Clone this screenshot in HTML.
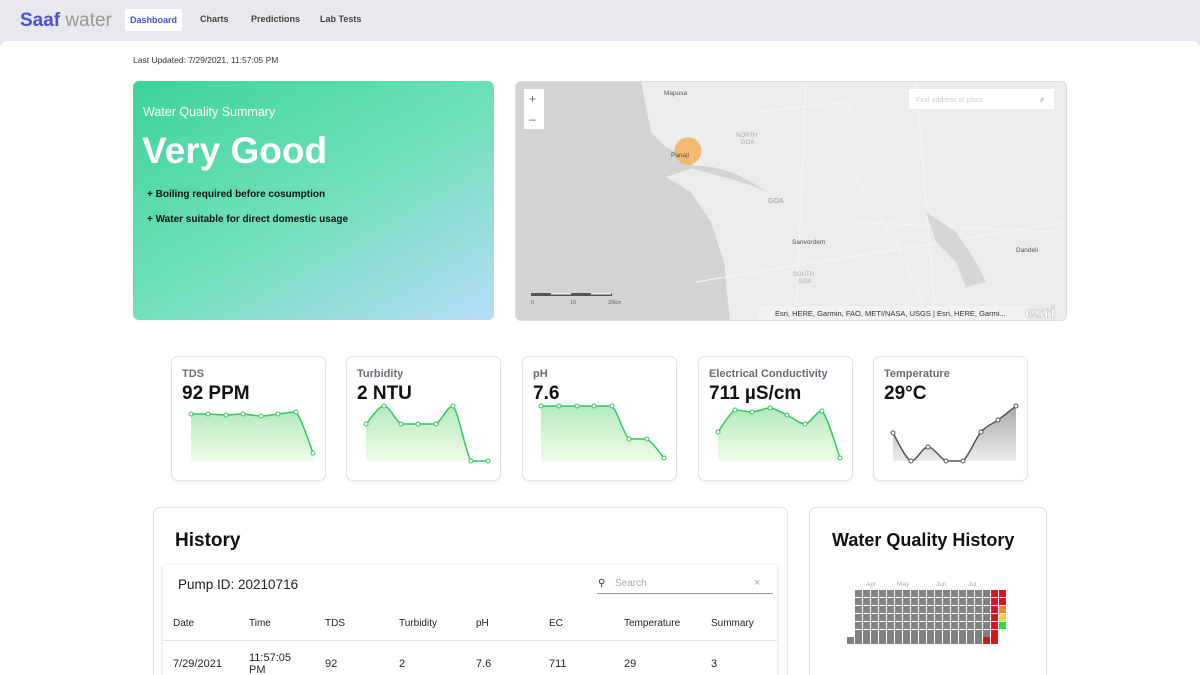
<!DOCTYPE html>
<html><head><meta charset="utf-8">
<style>
*{box-sizing:border-box;margin:0;padding:0}
html,body{width:1200px;height:675px;overflow:hidden}
body{background:#e8e9ec;font-family:"Liberation Sans",sans-serif;position:relative}
.a{position:absolute}
.main{left:0;top:41px;width:1200px;height:634px;background:#fff;border-radius:8px 8px 0 0}
.card{background:#fff;border:1px solid #e2e2e2;border-radius:7px;box-shadow:0 1px 2px rgba(0,0,0,.06)}
.lbl{font-size:11px;font-weight:bold;color:#6b6b78}
.val{font-size:19px;font-weight:bold;color:#111}
.nar{font-family:"Liberation Sans Narrow","Liberation Sans",sans-serif}
.th{font-size:10px;color:#222;top:618px}
.td{font-size:11px;color:#222;top:658px}
</style></head><body>
<div class="a" style="left:20px;top:10px;font-size:19px;color:#4a4fd8;font-weight:bold">Saaf<span style="font-weight:normal;color:#999"> water</span></div>
<div class="a" style="left:125px;top:9px;width:57px;height:22px;background:#fff;border-radius:3px;font-size:9px;font-weight:bold;color:#4a4fd8;text-align:center;line-height:22px">Dashboard</div>
<div class="a" style="left:200px;top:14px;font-size:9px;font-weight:bold;color:#444">Charts</div>
<div class="a" style="left:251px;top:14px;font-size:9px;font-weight:bold;color:#444">Predictions</div>
<div class="a" style="left:320px;top:14px;font-size:9px;font-weight:bold;color:#444">Lab Tests</div>
<div class="a main"></div>
<div class="a" style="left:133px;top:55px;font-size:8.5px;color:#333">Last Updated: 7/29/2021, 11:57:05 PM</div>

<div class="a" style="left:133px;top:81px;width:361px;height:239px;border-radius:6px;background:linear-gradient(150deg,#3dd39a 0%,#6ee0b8 50%,#b6dcf8 100%)">
 <div class="a" style="left:10px;top:24px;color:#fff;font-size:12.5px">Water Quality Summary</div>
 <div class="a" style="left:9px;top:49px;color:#fff;font-size:37px;font-weight:bold">Very Good</div>
 <div class="a" style="left:14px;top:108px;font-size:10px;font-weight:bold;color:#111">+ Boiling required before cosumption</div>
 <div class="a" style="left:14px;top:133px;font-size:10px;font-weight:bold;color:#111">+ Water suitable for direct domestic usage</div>
</div>

<div class="a" style="left:515px;top:81px;width:552px;height:240px;border-radius:6px;overflow:hidden;background:#ececec;border:1px solid #ddd">
 <svg class="a" style="left:0;top:0" width="552" height="240">
  <polygon points="0,0 125,0 135,50 150,65 165,72 180,85 150,95 175,110 195,140 208,180 214,240 0,240" fill="#d1d3d4"/>
  <path d="M170,85 C200,80 230,95 250,110 L260,115 L240,105 C210,95 190,90 170,85Z" fill="#d1d3d4"/>
  <path d="M240,30 L330,20 L340,40 M330,80 L380,160 L420,250 M340,140 L540,150 M400,0 L420,240 M180,200 L550,140 M290,0 L280,240" stroke="#f4f4f4" stroke-width="1" fill="none"/>
  <path d="M410,130 L440,150 L460,180 L470,200 L450,205 L440,180 L420,160Z" fill="#d6d6d6"/>
  <circle cx="172" cy="69" r="13.5" fill="#f5b25a" opacity=".85"/>
  <text x="155" y="75" font-size="6.5" fill="#555" font-family="Liberation Sans">Panaji</text>
  <text x="148" y="13" font-size="6.5" fill="#555" font-family="Liberation Sans">Mapusa</text>
  <text x="220" y="55" font-size="6" fill="#aaa" font-family="Liberation Sans">NORTH</text>
  <text x="225" y="62" font-size="6" fill="#aaa" font-family="Liberation Sans">GOA</text>
  <text x="252" y="121" font-size="7" fill="#999" font-family="Liberation Sans">GOA</text>
  <text x="276" y="162" font-size="6.5" fill="#555" font-family="Liberation Sans">Sanvordem</text>
  <text x="277" y="194" font-size="6" fill="#aaa" font-family="Liberation Sans">SOUTH</text>
  <text x="282" y="201" font-size="6" fill="#aaa" font-family="Liberation Sans">GOA</text>
  <text x="500" y="170" font-size="6.5" fill="#555" font-family="Liberation Sans">Dandeli</text>
  <rect x="15" y="211" width="81" height="3" fill="#555"/>
  <rect x="35" y="211" width="20" height="1.5" fill="#eee"/><rect x="75" y="211" width="20" height="1.5" fill="#eee"/>
  <text x="15" y="222" font-size="5.5" fill="#666">0</text><text x="54" y="222" font-size="5.5" fill="#666">10</text><text x="92" y="222" font-size="5.5" fill="#666">20km</text>
  <rect x="243" y="224" width="270" height="14" fill="#f3f3f3" opacity=".9"/>
  <text x="259" y="234" font-size="7.5" fill="#333" font-family="Liberation Sans">Esri, HERE, Garmin, FAO, METI/NASA, USGS | Esri, HERE, Garmi...</text>
  <text x="509" y="236" font-size="17" fill="#fff" font-weight="bold" stroke="#bbb" stroke-width=".6" font-family="Liberation Sans">esri</text>
  <rect x="8" y="7" width="20" height="40" fill="#fff"/>
  <text x="13" y="21" font-size="12" fill="#666">+</text><text x="13" y="41" font-size="12" fill="#666">–</text>
  <rect x="393" y="7" width="145" height="20" fill="#fff"/>
  <text x="400" y="20" font-size="7" fill="#ccc" font-family="Liberation Sans">Find address or place</text>
  <text x="524" y="20" font-size="8" fill="#777">⌕</text>
 </svg>
</div>

<div class="a card" style="left:171px;top:356px;width:155px;height:125px"><div class="a lbl" style="left:10px;top:11px">TDS</div><div class="a val" style="left:10px;top:26px">92 PPM</div></div>
<div class="a card" style="left:346px;top:356px;width:155px;height:125px"><div class="a lbl" style="left:10px;top:11px">Turbidity</div><div class="a val" style="left:10px;top:26px">2 NTU</div></div>
<div class="a card" style="left:522px;top:356px;width:155px;height:125px"><div class="a lbl" style="left:10px;top:11px">pH</div><div class="a val" style="left:10px;top:26px">7.6</div></div>
<div class="a card" style="left:698px;top:356px;width:155px;height:125px"><div class="a lbl" style="left:10px;top:11px">Electrical Conductivity</div><div class="a val" style="left:10px;top:26px">711 µS/cm</div></div>
<div class="a card" style="left:873px;top:356px;width:155px;height:125px"><div class="a lbl" style="left:10px;top:11px">Temperature</div><div class="a val" style="left:10px;top:26px">29°C</div></div>

<svg id="sp" class="a" style="left:0;top:0" width="1200" height="675">
<defs>
<linearGradient id="gg" x1="0" y1="0" x2="0" y2="1"><stop offset="0" stop-color="#b5eac0"/><stop offset="1" stop-color="#effde6"/></linearGradient>
<linearGradient id="gr" x1="0" y1="0" x2="0" y2="1"><stop offset="0" stop-color="#a9a9a9"/><stop offset="1" stop-color="#ececec"/></linearGradient>
</defs>
</svg>

<div class="a card" style="left:153px;top:507px;width:635px;height:200px"></div>
<div class="a" style="left:175px;top:530px;font-size:19px;font-weight:bold;color:#111">History</div>
<div class="a" style="left:163px;top:565px;width:614px;height:140px;background:#fff;box-shadow:0 1px 4px rgba(0,0,0,.15)"></div>
<div class="a nar" style="left:178px;top:577px;font-size:13.5px;color:#222">Pump ID: 20210716</div>
<div class="a" style="left:598px;top:578px;font-size:10px;color:#333">&#9906;</div>
<div class="a nar" style="left:615px;top:578px;font-size:10px;color:#aaa">Search</div>
<div class="a" style="left:754px;top:577px;font-size:11px;color:#aaa">×</div>
<div class="a" style="left:597px;top:593px;width:176px;height:1px;background:#999"></div>
<div class="a nar th" style="left:173px">Date</div><div class="a nar th" style="left:249px">Time</div><div class="a nar th" style="left:325px">TDS</div><div class="a nar th" style="left:399px">Turbidity</div><div class="a nar th" style="left:476px">pH</div><div class="a nar th" style="left:549px">EC</div><div class="a nar th" style="left:624px">Temperature</div><div class="a nar th" style="left:711px">Summary</div>
<div class="a" style="left:163px;top:640px;width:614px;height:1px;background:#e2e2e2"></div>
<div class="a nar td" style="left:173px">7/29/2021</div><div class="a nar td" style="left:249px;top:652px;line-height:12px">11:57:05<br>PM</div><div class="a nar td" style="left:325px">92</div><div class="a nar td" style="left:399px">2</div><div class="a nar td" style="left:476px">7.6</div><div class="a nar td" style="left:549px">711</div><div class="a nar td" style="left:624px">29</div><div class="a nar td" style="left:711px">3</div>

<div class="a card" style="left:809px;top:507px;width:238px;height:200px"></div>
<div class="a" style="left:832px;top:530px;font-size:18px;font-weight:bold;color:#111">Water Quality History</div>
<svg id="hm" class="a" style="left:0;top:0" width="1200" height="675">
<g font-size="6.5" fill="#aaa" font-family="Liberation Sans"><text x="866" y="586">Apr</text><text x="897" y="586">May</text><text x="936" y="586">Jun</text><text x="968" y="586">Jul</text></g>
</svg>
<script>
const S='http://www.w3.org/2000/svg';
function cl(v,a,b){const lo=Math.min(a,b),hi=Math.max(a,b);return Math.max(lo,Math.min(hi,v));}
function path(p){let d='M'+p[0][0]+','+p[0][1];for(let i=0;i<p.length-1;i++){const a=p[i-1]||p[i],b=p[i],c=p[i+1],e=p[i+2]||c;const t=6;
const y1=cl(b[1]+(c[1]-a[1])/t,b[1],c[1]),y2=cl(c[1]-(e[1]-b[1])/t,b[1],c[1]);
d+=` C${b[0]+(c[0]-a[0])/t},${y1} ${c[0]-(e[0]-b[0])/t},${y2} ${c[0]},${c[1]}`;}return d;}
const sp=document.getElementById('sp');
function spark(xs,ys,col,fill){const p=xs.map((x,i)=>[x,ys[i]]);const d=path(p);
const f=document.createElementNS(S,'path');f.setAttribute('d',d+` L${xs[xs.length-1]},461 L${xs[0]},461Z`);f.setAttribute('fill',fill);sp.appendChild(f);
const l=document.createElementNS(S,'path');l.setAttribute('d',d);l.setAttribute('fill','none');l.setAttribute('stroke',col);l.setAttribute('stroke-width','1.5');sp.appendChild(l);
p.forEach(q=>{const c=document.createElementNS(S,'circle');c.setAttribute('cx',q[0]);c.setAttribute('cy',q[1]);c.setAttribute('r','2');c.setAttribute('fill','#fff');c.setAttribute('stroke',col);c.setAttribute('stroke-width','1');sp.appendChild(c);});}
spark([191,208,226,243,261,278,296,313],[414,414,415,414,416,414,412,453],'#2fc95c','url(#gg)');
spark([366,384,401,418,436,453,471,488],[424,406,424,424,424,406,461,461],'#2fc95c','url(#gg)');
spark([541,559,577,594,612,629,647,664],[406,406,406,406,406,439,439,458],'#2fc95c','url(#gg)');
spark([718,735,752,770,787,805,822,840],[432,410,412,408,415,424,411,458],'#2fc95c','url(#gg)');
spark([893,911,928,946,963,981,998,1016],[433,461,447,461,461,432,420,406],'#555','url(#gr)');
const hm=document.getElementById('hm');
function cell(x,y,c){const r=document.createElementNS(S,'rect');r.setAttribute('x',x);r.setAttribute('y',y);r.setAttribute('width',7);r.setAttribute('height',7);r.setAttribute('fill',c);hm.appendChild(r);}
const ry=[590,598,606,614,622,630,637];
for(let col=0;col<17;col++)for(let r=0;r<7;r++){if(col==16&&r==6)continue;cell(855+col*8,ry[r],'#7f807f');}
cell(847,637,'#7f807f');cell(983,637,'#d8141c');
for(let r=0;r<7;r++)cell(991,ry[r],'#d8141c');
['#d8141c','#d8141c','#f08a24','#ecd93a','#3fd43c'].forEach((c,r)=>cell(999,ry[r],c));
</script>
</body></html>
